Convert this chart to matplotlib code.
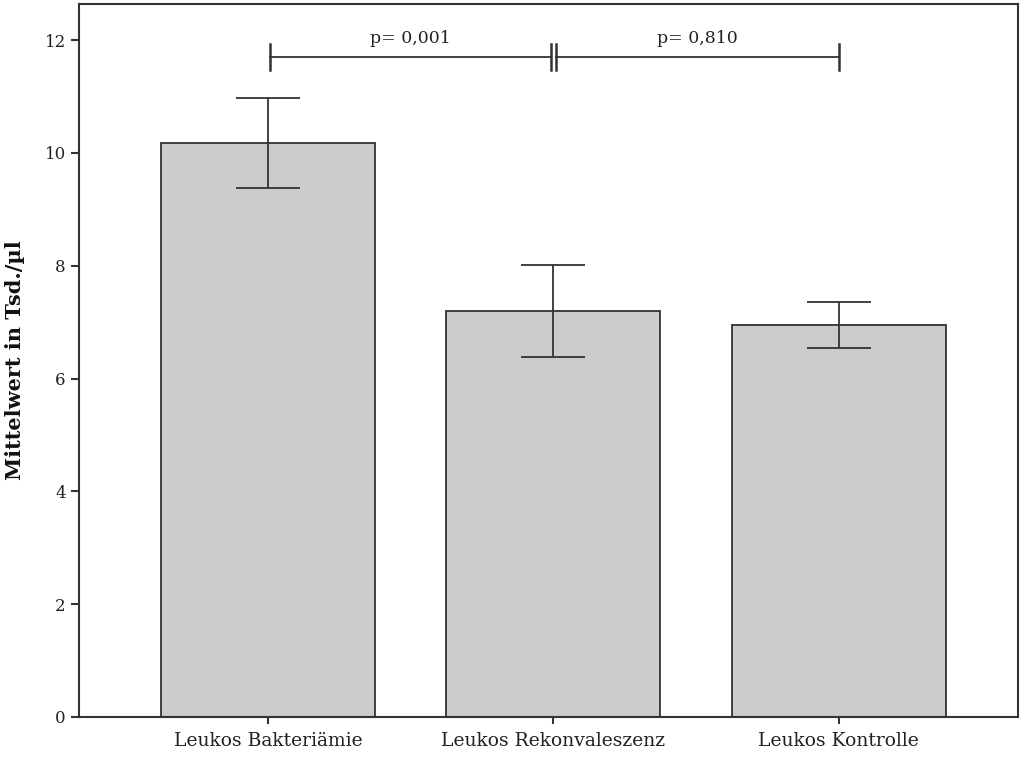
import matplotlib
matplotlib.use("Agg")
import matplotlib.pyplot as plt
import numpy as np

categories = ["Leukos Bakteriämie", "Leukos Rekonvaleszenz", "Leukos Kontrolle"]
means = [10.18, 7.20, 6.95]
err_low = [9.38, 6.38, 6.54]
err_high = [10.97, 8.01, 7.36]
yticks = [0, 2, 4, 6, 8, 10, 12]
brackets = [(0.005, 0.99, "p= 0,001"), (1.01, 2, "p= 0,810")]
bracket_y = 11.7

plt.rcParams['font.family'] = ['DejaVu Serif']
fig = plt.figure(figsize=(10.3, 7.58), dpi=100)
ax = fig.add_axes([0.0767, 0.0541, 0.9883 - 0.0767, 0.9947 - 0.0541])

x = np.arange(len(categories))
ec = "#333333"
ax.bar(x, means, width=0.75, color="#cccccc", edgecolor=ec, linewidth=1.3, zorder=2)
m = np.array(means)
yerr = np.array([m - np.array(err_low), np.array(err_high) - m])
ax.errorbar(x, means, yerr=yerr, fmt="none", ecolor=ec, elinewidth=1.3,
            capsize=23, capthick=1.3, zorder=3)

for x0, x1, label in brackets:
    ax.plot([x0, x1], [bracket_y, bracket_y], color=ec, lw=1.3, zorder=3)
    for xe in (x0, x1):
        ax.plot([xe, xe], [bracket_y - 0.23, bracket_y + 0.23], color=ec, lw=1.8, zorder=3)
    ax.text((x0 + x1) / 2, bracket_y + 0.17, label, ha="center", va="bottom",
            fontsize=12.5, color="#222222")

ax.set_xlim(-0.663, 2.628)
ax.set_ylim(0, 12.64)
ax.set_yticks(yticks)
ax.set_xticks(x)
ax.set_xticklabels(categories, fontsize=13.5, color="#222222")
ax.tick_params(axis="y", labelsize=12, length=6, width=1.5, color=ec, labelcolor="#222222")
ax.tick_params(axis="x", length=5, width=1.5, color=ec, pad=6)
for s in ax.spines.values():
    s.set_color(ec)
    s.set_linewidth(1.5)
fig.text(15 / 1030, 1 - 360 / 758, "Mittelwert in Tsd./µl", rotation=90,
         ha="center", va="center", fontsize=15, fontweight="bold", color="#111111")

fig.savefig("out.png", dpi=100)
